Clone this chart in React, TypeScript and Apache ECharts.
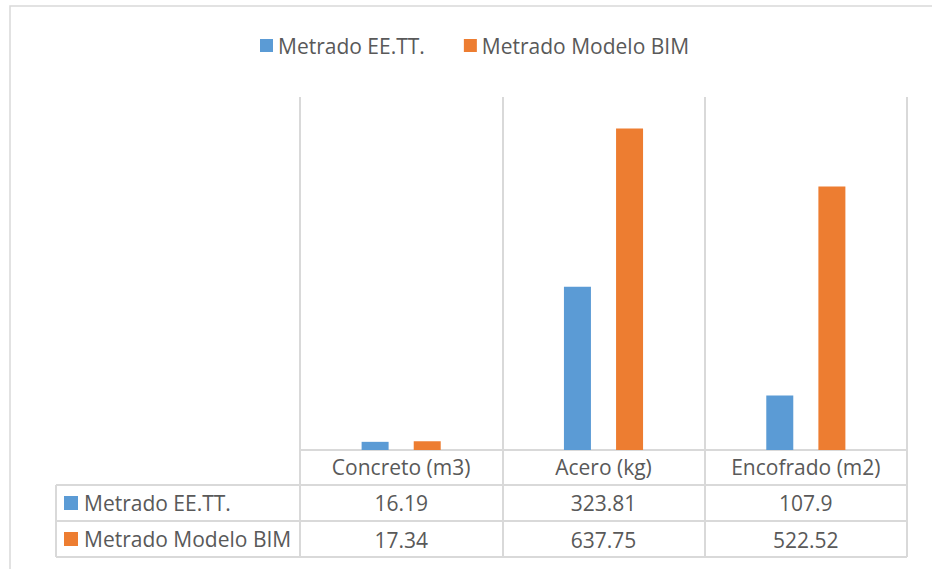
import React, { useEffect, useRef } from "react";
import * as echarts from "echarts";

const categories = ["Concreto (m3)", "Acero (kg)", "Encofrado (m2)"];
const seriesNames = ["Metrado EE.TT.", "Metrado Modelo BIM"];
const eeTT = [16.19, 323.81, 107.9];
const bim = [17.34, 637.75, 522.52];
const eeTTLabels = ["16.19", "323.81", "107.9"];
const bimLabels = ["17.34", "637.75", "522.52"];
const colors = ["#5b9bd5", "#ed7d31"];

const FONT = "Open Sans";
const FS = 21;
const TXT = "#595959";
const LINE = "#d9d9d9";

export default function App() {
  const ref = useRef<HTMLDivElement>(null);
  useEffect(() => {
    document.body.style.margin = "0";
    const chart = echarts.init(ref.current!, undefined, { renderer: "svg" });
    const gridLeft = 300, gridRight = 907, gridTop = 97, gridBottom = 450;
    const tableLeft = 56, rowYs = [485, 521, 557];
    const graphics: any[] = [
      { type: "rect", shape: { x: 10, y: 6, width: 960, height: 600 }, style: { fill: "none", stroke: LINE, lineWidth: 1.5 }, silent: true },
    ];
    rowYs.forEach((y) => {
      graphics.push({ type: "line", shape: { x1: tableLeft, y1: y, x2: gridRight, y2: y }, style: { stroke: LINE, lineWidth: 2 } });
    });
    graphics.push({ type: "line", shape: { x1: tableLeft, y1: rowYs[0], x2: tableLeft, y2: rowYs[2] }, style: { stroke: LINE, lineWidth: 2 } });
    seriesNames.forEach((name, i) => {
      const cy = (rowYs[i] + rowYs[i + 1]) / 2;
      graphics.push({ type: "rect", shape: { x: 64, y: cy - 7, width: 14, height: 14 }, style: { fill: colors[i] } });
      graphics.push({ type: "text", x: 84, y: cy, style: { text: name, fill: TXT, font: `${FS}px "${FONT}"`, verticalAlign: "middle", align: "left" } });
    });

    const extraAxis = (labels: string[], margin: number) => ({
      type: "category",
      data: labels,
      position: "bottom",
      gridIndex: 0,
      offset: 0,
      axisLine: { show: false },
      axisTick: { show: false },
      splitLine: { show: false },
      axisLabel: { margin, color: TXT, fontSize: FS, fontFamily: FONT, verticalAlign: "middle", interval: 0 },
    });

    chart.setOption({
      animation: false,
      textStyle: { fontFamily: FONT },
      legend: {
        data: seriesNames,
        left: 255,
        top: 30,
        icon: "rect",
        itemWidth: 13,
        itemHeight: 13,
        itemGap: 39,
        itemStyle: { borderWidth: 0 },
        textStyle: { color: TXT, fontSize: FS, fontFamily: FONT },
      },
      grid: { left: gridLeft, top: gridTop, width: gridRight - gridLeft, height: gridBottom - gridTop, containLabel: false },
      xAxis: [
        {
          type: "category",
          data: categories,
          position: "bottom",
          axisLine: { show: true, lineStyle: { color: LINE, width: 2 } },
          axisTick: { show: true, length: 107, lineStyle: { color: LINE, width: 2 } },
          splitLine: { show: true, lineStyle: { color: LINE, width: 2 } },
          axisLabel: { margin: 17, color: TXT, fontSize: FS, fontFamily: FONT, verticalAlign: "middle", interval: 0 },
        },
        extraAxis(eeTTLabels, 53),
        extraAxis(bimLabels, 90),
      ],
      yAxis: { type: "value", min: 0, max: 700, show: false, splitLine: { show: false } },
      series: [
        { name: seriesNames[0], type: "bar", data: eeTT, barWidth: 27, barGap: "93%", itemStyle: { color: colors[0] } },
        { name: seriesNames[1], type: "bar", data: bim, barWidth: 27, barGap: "93%", itemStyle: { color: colors[1] } },
      ],
      graphic: graphics,
    });
    return () => chart.dispose();
  }, []);
  return <div ref={ref} style={{ width: 932, height: 569 }} />;
}
